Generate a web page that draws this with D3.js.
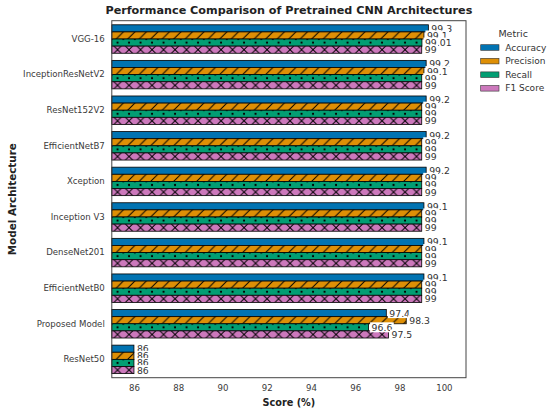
<!DOCTYPE html>
<html>
<head>
<meta charset="utf-8">
<script src="https://cdn.jsdelivr.net/npm/d3@7"></script>
<style>
  body { margin: 0; background: #fff; }
  svg { font-family: "DejaVu Sans", sans-serif; }
</style>
</head>
<body>
<div id="chart"></div>
<script>
// chart data
const models = ["VGG-16", "InceptionResNetV2", "ResNet152V2", "EfficientNetB7", "Xception",
  "Inception V3", "DenseNet201", "EfficientNetB0", "Proposed Model", "ResNet50"];
const metrics = ["Accuracy", "Precision", "Recall", "F1 Score"];
const accuracy  = [99.3, 99.2, 99.2, 99.2, 99.2, 99.1, 99.1, 99.1, 97.4, 86];
const precision = [99.1, 99.1, 99, 99, 99, 99, 99, 99, 98.3, 86];
const recall    = [99.01, 99, 99, 99, 99, 99, 99, 99, 96.6, 86];
const f1score   = [99, 99, 99, 99, 99, 99, 99, 99, 97.5, 86];
const xTicks = [86, 88, 90, 92, 94, 96, 98, 100];

const seriesValues = [accuracy, precision, recall, f1score];
const colors = ["#0173b2", "#de8f05", "#029e73", "#cc78bc"];
const hatches = ["none", "slash", "dot", "cross"];

const W = 550, H = 413;
const plot = {left: 111.8, right: 466, top: 20.7, bottom: 377.7};

const svg = d3.select("#chart").append("svg")
    .attr("width", W)
    .attr("height", H);

const x = d3.scaleLinear().domain([85, 101]).range([plot.left, plot.right]);
const y = d3.scaleBand().domain(models).range([plot.top, plot.bottom])
    .paddingInner(0.2).paddingOuter(0.115);
const yInner = d3.scaleBand().domain(metrics).range([0, y.bandwidth()]);

// flatten into bar records
const bars = [];
metrics.forEach((m, i) => {
  models.forEach((name, j) => {
    bars.push({metric: m, mi: i, model: name, value: seriesValues[i][j], id: "p" + i + "_" + j});
  });
});

const defs = svg.append("defs");
const step = 11.5;
const barH = yInner.bandwidth();

// one pattern per hatched bar, anchored on the bar
bars.filter(d => hatches[d.mi] !== "none").forEach(d => {
  const bx = x(85), by = y(d.model) + yInner(d.metric);
  const p = defs.append("pattern")
      .attr("id", d.id)
      .attr("patternUnits", "userSpaceOnUse")
      .attr("x", bx).attr("y", by)
      .attr("width", step).attr("height", hatches[d.mi] === "dot" ? barH : step);
  p.append("rect").attr("width", step).attr("height", step).attr("fill", colors[d.mi]);
  if (hatches[d.mi] === "slash") {
    p.append("path")
        .attr("d", `M0,${step} L${step},0 M${-step / 2},${step / 2} L${step / 2},${-step / 2} M${step / 2},${step * 1.5} L${step * 1.5},${step / 2}`)
        .attr("stroke", "#000").attr("stroke-width", 1);
  } else if (hatches[d.mi] === "cross") {
    p.append("path")
        .attr("d", `M0,${step} L${step},0 M0,0 L${step},${step}`)
        .attr("stroke", "#000").attr("stroke-width", 1)
        .attr("transform", `translate(0,${barH / 2 - step / 2})`);
  } else if (hatches[d.mi] === "dot") {
    p.append("circle").attr("cx", step / 2).attr("cy", barH / 2).attr("r", 1.1).attr("fill", "#000");
    p.append("circle").attr("cx", 0).attr("cy", 0.3).attr("r", 0.9).attr("fill", "#000");
    p.append("circle").attr("cx", step).attr("cy", 0.3).attr("r", 0.9).attr("fill", "#000");
  }
});

// bars
svg.append("g")
  .selectAll("rect")
  .data(bars)
  .join("rect")
    .attr("x", x(85))
    .attr("y", d => y(d.model) + yInner(d.metric))
    .attr("width", d => x(d.value) - x(85))
    .attr("height", barH)
    .attr("fill", d => hatches[d.mi] === "none" ? colors[d.mi] : `url(#${d.id})`)
    .attr("stroke", "#000")
    .attr("stroke-width", 0.8);

// value labels with white boxes, drawn in series order
const labelG = svg.append("g");
bars.forEach(d => {
  const g = labelG.append("g")
      .attr("transform", `translate(${x(d.value) + 3},${y(d.model) + yInner(d.metric) + barH / 2})`);
  const t = g.append("text")
      .attr("dominant-baseline", "central")
      .attr("font-size", 9.3)
      .attr("fill", "#333")
      .text(d3.format("~g")(d.value));
  const w = t.node().getComputedTextLength();
  g.insert("rect", "text")
      .attr("x", -1.5).attr("y", -5)
      .attr("width", w + 3).attr("height", 10)
      .attr("fill", "#fff");
});

// frame
svg.append("rect")
    .attr("x", plot.left).attr("y", plot.top)
    .attr("width", plot.right - plot.left).attr("height", plot.bottom - plot.top)
    .attr("fill", "none").attr("stroke", "#444").attr("stroke-width", 1);

// axes
const xAxis = svg.append("g")
    .attr("transform", `translate(0,${plot.bottom})`)
    .call(d3.axisBottom(x).tickValues(xTicks).tickSize(0).tickPadding(7));
const yAxis = svg.append("g")
    .attr("transform", `translate(${plot.left},0)`)
    .call(d3.axisLeft(y).tickSize(0).tickPadding(7));
[xAxis, yAxis].forEach(a => {
  a.select(".domain").remove();
  a.selectAll("text")
      .attr("font-family", "DejaVu Sans, sans-serif")
      .attr("font-size", 8.6)
      .attr("fill", "#3a3a3a");
});

// titles
svg.append("text")
    .attr("x", (plot.left + plot.right) / 2).attr("y", 10.5)
    .attr("text-anchor", "middle").attr("dominant-baseline", "central")
    .attr("font-size", 11.2).attr("font-weight", "bold").attr("fill", "#222")
    .text("Performance Comparison of Pretrained CNN Architectures");

svg.append("text")
    .attr("x", (plot.left + plot.right) / 2).attr("y", 402)
    .attr("text-anchor", "middle").attr("dominant-baseline", "central")
    .attr("font-size", 9.7).attr("font-weight", "bold").attr("fill", "#222")
    .text("Score (%)");

svg.append("text")
    .attr("transform", `translate(12,${(plot.top + plot.bottom) / 2}) rotate(-90)`)
    .attr("text-anchor", "middle").attr("dominant-baseline", "central")
    .attr("font-size", 10.4).attr("font-weight", "bold").attr("fill", "#222")
    .text("Model Architecture");

// legend
const legend = svg.append("g").attr("transform", "translate(480.7,0)");
legend.append("text")
    .attr("x", 32.5).attr("y", 33.5)
    .attr("text-anchor", "middle").attr("dominant-baseline", "central")
    .attr("font-size", 9.5).attr("fill", "#333")
    .text("Metric");
const items = legend.selectAll("g.item")
  .data(metrics)
  .join("g")
    .attr("class", "item")
    .attr("transform", (d, i) => `translate(0,${47.5 + i * 13.6})`);
items.append("rect")
    .attr("x", 0).attr("y", -2.8)
    .attr("width", 18.3).attr("height", 5.6)
    .attr("fill", (d, i) => colors[i])
    .attr("stroke", "#333").attr("stroke-width", 0.6);
items.append("text")
    .attr("x", 24.5).attr("y", 0)
    .attr("dominant-baseline", "central")
    .attr("font-size", 9).attr("fill", "#333")
    .text(d => d);
</script>
</body>
</html>
